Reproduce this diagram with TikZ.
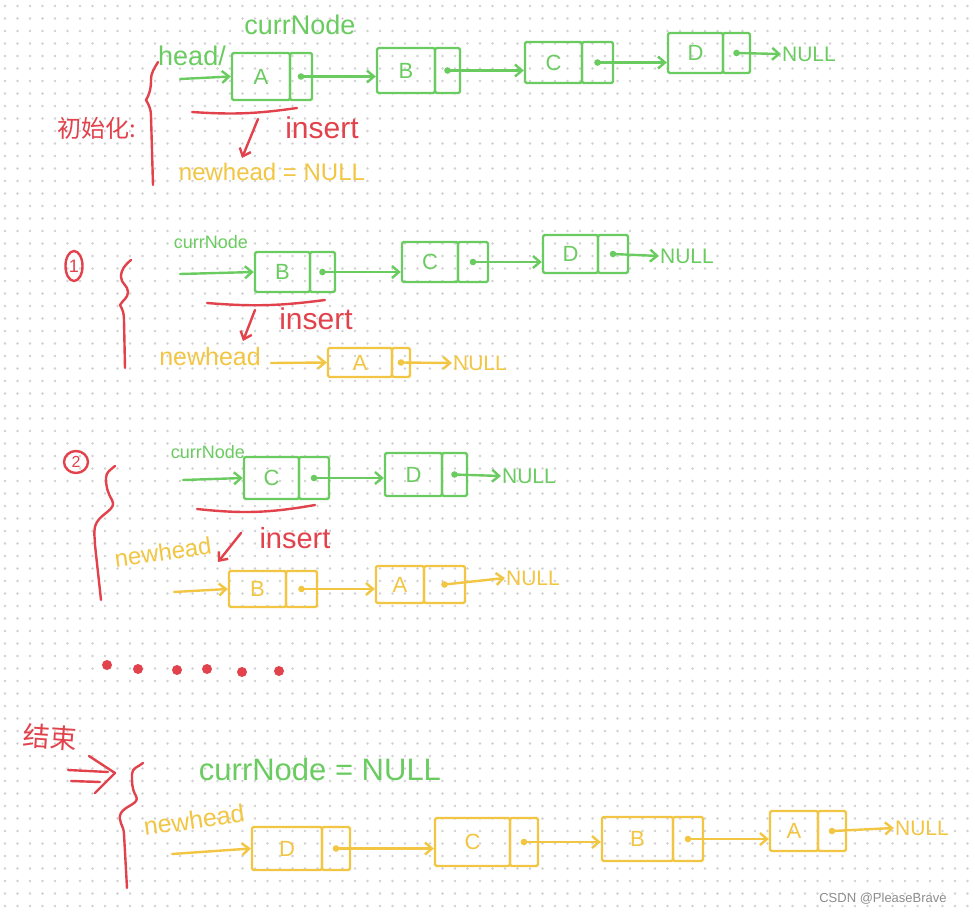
\documentclass[tikz,border=0pt]{standalone}
\usepackage{fontspec}
\setmainfont{Liberation Sans}
\newfontfamily\cjk{Noto Sans CJK SC}
\usetikzlibrary{arrows.meta,shapes.geometric}
\definecolor{hgreen}{RGB}{106,204,96}
\definecolor{hred}{RGB}{226,66,76}
\definecolor{hyellow}{RGB}{242,198,66}
\definecolor{griddot}{RGB}{208,208,208}
\newcommand\fsz[1]{\fontsize{#1}{#1}\selectfont}
\tikzset{
  ink/.style={line width=2.4pt, line cap=round, line join=round},
  cell/.style={ink, inner sep=0pt, rounded corners=1.5pt, font=\fsz{22}},
  tip/.style={-{Straight Barb[length=7pt,width=12pt]}},
  garr/.style={ink, draw=hgreen, tip},
  yarr/.style={ink, draw=hyellow, tip},
  rarr/.style={ink, draw=hred, tip},
  rline/.style={ink, draw=hred},
  gtxt/.style={text=hgreen, inner sep=1pt},
  ytxt/.style={text=hyellow, inner sep=1pt},
  rtxt/.style={text=hred, inner sep=1pt},
}
% list node: name, colour, x left, x divider, x right, y top, y bottom, label
\newcommand\llnode[8]{%
  \node[cell, draw=#2, text=#2, minimum width={(#4-#3)*1pt}, minimum height={(#7-#6)*1pt}]
    (#1) at ({(#3+#4)/2},{(#6+#7)/2}) {#8};
  \node[cell, draw=#2, minimum width={(#5-#4)*1pt}, minimum height={(#7-#6)*1pt}]
    (#1p) at ({(#4+#5)/2},{(#6+#7)/2}) {};
  \fill[#2] (#1p.center) circle (3.3);
}
\begin{document}
\begin{tikzpicture}[x=1pt,y=-1pt]
\useasboundingbox (0,0) rectangle (975,913);
\fill[white] (0,0) rectangle (975,913);
\foreach \y in {6,18.5,...,913}
  \draw[griddot, line width=2.6pt, line cap=round, dash pattern=on 0pt off 12.5pt] (5,\y) -- (975,\y);

% ---------------- initialisation ----------------
\node[rtxt, font=\cjk\fsz{24}] (init) at (97,128) {初始化:};
\draw[rline] (158,62) to[out=240,in=90] (151,80) to[out=-90,in=60] (146,100)
  to[out=-60,in=90] (151,116) -- (153,185);
\node[gtxt, font=\fsz{27}] (hd) at (192,56) {head/};
\node[gtxt, font=\fsz{27}] (cn0) at (300,25) {currNode};
\llnode{A0}{hgreen}{232}{290}{312}{53}{100}{A}
\llnode{B0}{hgreen}{377}{435}{460}{48}{93}{B}
\llnode{C0}{hgreen}{525}{582}{613}{42}{83}{C}
\llnode{D0}{hgreen}{668}{723}{750}{33}{73}{D}
\node[gtxt, font=\fsz{21}] (N0) at (809,54) {NULL};
\coordinate (s0) at (180,79);
\draw[garr] (s0) -- (A0.west);
\draw[garr] (A0p.center) -- (B0.west |- A0p.center);
\draw[garr] (B0p.center) -- (C0.west |- B0p.center);
\draw[garr] (C0p.center) -- (D0.west |- C0p.center);
\draw[garr] (D0p.center) -- (N0.west);
\coordinate (u0a) at (192,112); \coordinate (u0b) at (297,108);
\draw[rline] (u0a) to[bend right=6] (u0b);
\coordinate (r0a) at (258,119); \coordinate (r0b) at (242,158);
\draw[rarr] (r0a) -- (r0b);
\node[rtxt, font=\fsz{30}] (ins0) at (322,128) {insert};
\node[ytxt, font=\fsz{24}] (nh0) at (272,172) {newhead = NULL};

% ---------------- step 1 ----------------
\node[draw=hred, ink, ellipse, minimum width=17, minimum height=30, inner sep=0pt,
  text=hred, font=\fsz{18}] (one) at (74,266) {1};
\draw[rline] (131,260) to[out=220,in=90] (121,277) to[out=-90,in=90] (128,292)
  to[out=-90,in=60] (120,305) to[out=-60,in=90] (124,320) -- (125,368);
\node[gtxt, font=\fsz{18}] (cn1) at (211,242) {currNode};
\llnode{B1}{hgreen}{255}{310}{335}{252}{292}{B}
\llnode{C1}{hgreen}{402}{458}{488}{242}{282}{C}
\llnode{D1}{hgreen}{543}{598}{628}{235}{273}{D}
\node[gtxt, font=\fsz{21}] (N1) at (687,256) {NULL};
\coordinate (s1) at (180,274);
\draw[garr] (s1) -- (B1.west);
\draw[garr] (B1p.center) -- (C1.west |- B1p.center);
\draw[garr] (C1p.center) -- (D1.west |- C1p.center);
\draw[garr] (D1p.center) -- (N1.west);
\coordinate (u1a) at (207,303); \coordinate (u1b) at (325,300);
\draw[rline] (u1a) to[bend right=6] (u1b);
\coordinate (r1a) at (255,310); \coordinate (r1b) at (243,341);
\draw[rarr] (r1a) -- (r1b);
\node[rtxt, font=\fsz{30}] (ins1) at (316,319) {insert};
\node[ytxt, font=\fsz{25}] (nh1) at (210,357) {newhead};
\llnode{A1}{hyellow}{328}{392}{410}{348}{377}{A}
\node[ytxt, font=\fsz{21}] (Ny1) at (480,363) {NULL};
\coordinate (s1y) at (271,363);
\draw[yarr] (s1y) -- (A1.west);
\draw[yarr] (A1p.center) -- (Ny1.west);

% ---------------- step 2 ----------------
\node[draw=hred, ink, ellipse, minimum width=24, minimum height=22, inner sep=0pt,
  text=hred, font=\fsz{16}] (two) at (76,462) {2};
\draw[rline] (115,466) to[out=220,in=90] (106,478) to[out=-90,in=120] (112,500)
  to[out=-60,in=60] (97,522) to[out=-120,in=90] (95,545) -- (101,600);
\node[gtxt, font=\fsz{18}] (cn2) at (208,452) {currNode};
\llnode{C2}{hgreen}{244}{299}{329}{457}{499}{C}
\llnode{D2}{hgreen}{385}{442}{467}{453}{496}{D}
\node[gtxt, font=\fsz{21}] (N2) at (529,476) {NULL};
\coordinate (s2) at (183,480);
\draw[garr] (s2) -- (C2.west);
\draw[garr] (C2p.center) -- (D2.west |- C2p.center);
\draw[garr] (D2p.center) -- (N2.west);
\coordinate (u2a) at (197,509); \coordinate (u2b) at (315,505);
\draw[rline] (u2a) to[bend right=8] (u2b);
\node[ytxt, font=\fsz{24}, rotate=8] (nh2) at (163,552) {newhead};
\coordinate (r2a) at (241,533); \coordinate (r2b) at (218,562);
\draw[rarr] (r2a) -- (r2b);
\node[rtxt, font=\fsz{29}] (ins2) at (295,538) {insert};
\llnode{B2}{hyellow}{229}{286}{317}{571}{607}{B}
\llnode{A2}{hyellow}{376}{424}{465}{566}{603}{A}
\node[ytxt, font=\fsz{21}] (Ny2) at (533,578) {NULL};
\coordinate (s2y) at (174,592);
\draw[yarr] (s2y) -- (B2.west);
\draw[yarr] (B2p.center) -- (A2.west |- B2p.center);
\draw[yarr] (A2p.center) -- (Ny2.west);

% ---------------- ellipsis dots ----------------
\foreach \x/\y [count=\i] in {107/665,138/669,177/670,207/669,242/672,279/671}
  \node[circle, fill=hred, minimum size=10, inner sep=0pt] (dot\i) at (\x,\y) {};

% ---------------- end ----------------
\node[rtxt, font=\cjk\fsz{27}, rotate=-4] (fin) at (50,737) {结束};
\coordinate (e1) at (68,770); \coordinate (e2) at (108,772);
\coordinate (e3) at (71,781); \coordinate (e4) at (100,782);
\coordinate (e5) at (89,756); \coordinate (e6) at (115,773); \coordinate (e7) at (95,793);
\draw[rline] (e1) -- (e2);
\draw[rline] (e3) -- (e4);
\draw[rline] (e5) -- (e6) -- (e7);
\draw[rline] (143,763) to[out=220,in=90] (132,774) to[out=-90,in=120] (136,796)
  to[out=-60,in=60] (121,813) to[out=-120,in=90] (124,834) -- (127,888);
\node[gtxt, font=\fsz{31}] (cnf) at (320,769) {currNode = NULL};
\node[ytxt, font=\fsz{25}, rotate=8] (nh3) at (194,820) {newhead};
\llnode{D3}{hyellow}{252}{322}{350}{827}{870}{D}
\llnode{C3}{hyellow}{435}{510}{538}{818}{866}{C}
\llnode{B3}{hyellow}{602}{673}{703}{817}{861}{B}
\llnode{A3}{hyellow}{770}{818}{846}{811}{851}{A}
\node[ytxt, font=\fsz{21}] (Ny3) at (922,828) {NULL};
\coordinate (s3) at (172,854);
\draw[yarr] (s3) -- (D3.west);
\draw[yarr] (D3p.center) -- (C3.west |- D3p.center);
\draw[yarr] (C3p.center) -- (B3.west |- C3p.center);
\draw[yarr] (B3p.center) -- (A3.west |- B3p.center);
\draw[yarr] (A3p.center) -- (Ny3.west);

\node[text=black!45, font=\fsz{13}, inner sep=0pt] (wm) at (883,899) {CSDN @PleaseBrave};
\end{tikzpicture}
\end{document}
